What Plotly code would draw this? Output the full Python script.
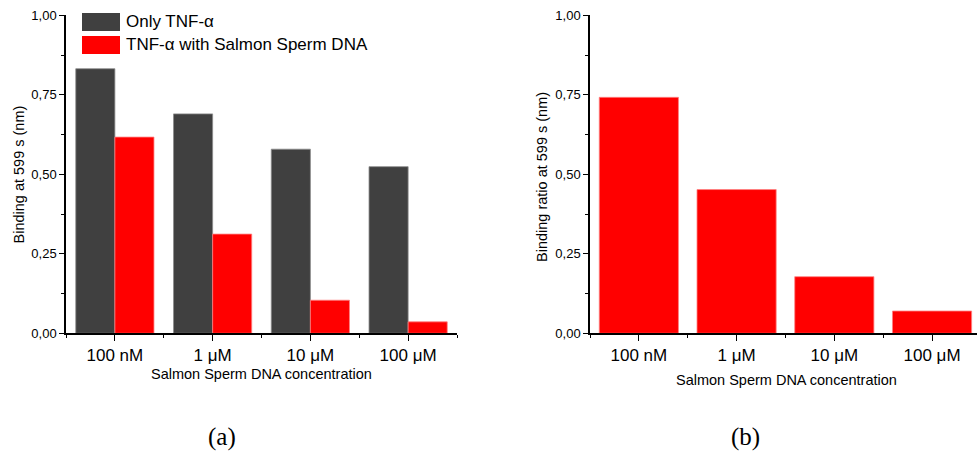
import plotly.graph_objects as go

# Salmon sperm DNA competition assay
categories = ["100 nM", "1 μM", "10 μM", "100 μM"]
only_tnf = [0.832, 0.690, 0.579, 0.524]
tnf_with_dna = [0.617, 0.312, 0.104, 0.036]
binding_ratio = [0.742, 0.452, 0.178, 0.070]
y_ticks = [0.0, 0.25, 0.5, 0.75, 1.0]

GRAY = "#404040"
RED = "#ff0000"
FONT = "Liberation Sans"

xpos = list(range(len(categories)))
W, H = 977, 459

fig = go.Figure()

fig.add_trace(go.Bar(
    x=xpos, y=only_tnf, name="Only TNF-α", marker_color=GRAY,
    marker_line=dict(color="#8a8a8a", width=0.8),
    xaxis="x", yaxis="y", showlegend=False,
))
fig.add_trace(go.Bar(
    x=xpos, y=tnf_with_dna, name="TNF-α with Salmon Sperm DNA", marker_color=RED,
    marker_line=dict(color="#ff8080", width=0.8),
    xaxis="x", yaxis="y", showlegend=False,
))
fig.add_trace(go.Bar(
    x=xpos, y=binding_ratio, name="Binding ratio", marker_color=RED,
    marker_line=dict(color="#ff8080", width=0.8),
    xaxis="x2", yaxis="y2", showlegend=False, width=0.81,
))

def px_x(v):
    return v / W

def px_y(v):
    return 1 - v / H

left_dom = [px_x(66), px_x(457)]
right_dom = [px_x(590), 1.0]
y_dom = [px_y(333.3), px_y(15.3)]

xaxis_common = dict(
    tickmode="array", tickvals=xpos, ticktext=categories,
    ticks="outside", ticklen=6, tickwidth=1.2, tickcolor="black",
    showline=True, linecolor="black", linewidth=1.5,
    showgrid=False, zeroline=False, automargin=False,
    tickfont=dict(family=FONT, size=17, color="black"),
    minor=dict(tickmode="linear", tick0=0.5, dtick=1, ticks="outside",
               ticklen=3, tickwidth=1.2, tickcolor="black", showgrid=False),
)
yaxis_common = dict(
    range=[0, 1], tickmode="array", tickvals=y_ticks, tickformat=".2f",
    ticks="outside", ticklen=5, tickwidth=1.2, tickcolor="black",
    showline=True, linecolor="black", linewidth=1.5,
    showgrid=False, zeroline=False, automargin=False,
    tickfont=dict(family=FONT, size=13, color="black"),
    minor=dict(tickmode="linear", tick0=0.125, dtick=0.25, ticks="outside",
               ticklen=3, tickwidth=1.2, tickcolor="black", showgrid=False),
    domain=y_dom,
)

fig.update_layout(
    width=W, height=H,
    margin=dict(l=0, r=0, t=0, b=0, autoexpand=False),
    paper_bgcolor="white", plot_bgcolor="white",
    separators=",.",
    barmode="group", bargap=0.2, bargroupgap=0,
    xaxis=dict(domain=left_dom, range=[-0.5, 3.5], anchor="y", **xaxis_common),
    yaxis=dict(anchor="x", **yaxis_common),
    xaxis2=dict(domain=right_dom, range=[-0.5, 3.46], anchor="y2", **xaxis_common),
    yaxis2=dict(anchor="x2", **yaxis_common),
    font=dict(family=FONT, color="black"),
)

# Legend for panel (a)
legend_items = [("Only TNF-α", GRAY, 22), ("TNF-α with Salmon Sperm DNA", RED, 45)]
for label, color, yc in legend_items:
    fig.add_shape(type="rect", xref="paper", yref="paper",
                  x0=px_x(82), x1=px_x(120), y0=px_y(yc + 9), y1=px_y(yc - 9),
                  fillcolor=color, line=dict(width=0))
    fig.add_annotation(text=label, xref="paper", yref="paper",
                       x=px_x(124), y=px_y(yc), xanchor="left", yanchor="middle",
                       showarrow=False, font=dict(family=FONT, size=17, color="black"))

# Axis titles
fig.add_annotation(text="Binding at 599 s (nm)", xref="paper", yref="paper",
                   x=px_x(18), y=px_y(174.5), textangle=-90, showarrow=False,
                   xanchor="center", yanchor="middle",
                   font=dict(family=FONT, size=14.5, color="black"))
fig.add_annotation(text="Binding ratio at 599 s (nm)", xref="paper", yref="paper",
                   x=px_x(542), y=px_y(177), textangle=-90, showarrow=False,
                   xanchor="center", yanchor="middle",
                   font=dict(family=FONT, size=14.5, color="black"))
fig.add_annotation(text="Salmon Sperm DNA concentration", xref="paper", yref="paper",
                   x=px_x(261.5), y=px_y(374), showarrow=False,
                   xanchor="center", yanchor="middle",
                   font=dict(family=FONT, size=14.5, color="black"))
fig.add_annotation(text="Salmon Sperm DNA concentration", xref="paper", yref="paper",
                   x=px_x(786), y=px_y(380), showarrow=False,
                   xanchor="center", yanchor="middle",
                   font=dict(family=FONT, size=14.5, color="black"))

# Panel captions
for cap, xc in [("(a)", 222), ("(b)", 745)]:
    fig.add_annotation(text=cap, xref="paper", yref="paper",
                       x=px_x(xc), y=px_y(437), showarrow=False,
                       xanchor="center", yanchor="middle",
                       font=dict(family="Liberation Serif", size=25, color="black"))

fig.write_html("out.html")
